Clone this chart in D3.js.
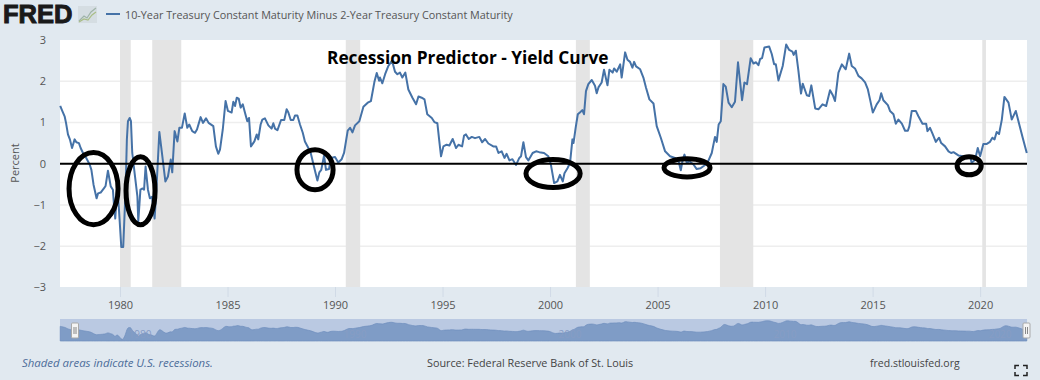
<!DOCTYPE html>
<html>
<head>
<meta charset="utf-8">
<script src="https://cdn.jsdelivr.net/npm/d3@7"></script>
<style>
  body { margin: 0; background: #e1e9f0; }
  text { font-family: "Open Sans", sans-serif; }
  .domain { display: none; }
</style>
</head>
<body>
<svg id="chart" width="1040" height="380"></svg>
<script>
const seriesName = '10-Year Treasury Constant Maturity Minus 2-Year Treasury Constant Maturity';
const chartTitle = 'Recession Predictor - Yield Curve';

// decimal years
const years = [
  1977.22,1977.30,1977.43,1977.49,1977.58,1977.67,1977.77,1977.89,1977.97,1978.09,1978.17,1978.28,1978.43,1978.59,1978.67,1978.77,1978.91,1978.98,1979.10,1979.26,1979.33,1979.44,1979.57,1979.67,1979.72,1979.78,1979.88,1980.06,1980.15,1980.26,1980.32,1980.37,1980.45,1980.51,1980.57,1980.68,1980.81,1980.85,1980.95,1981.05,1981.12,1981.19,1981.30,1981.39,1981.49,1981.61,1981.70,1981.83,1981.95,1982.11,1982.23,1982.36,1982.43,1982.54,1982.67,1982.76,1982.88,1983.01,1983.13,1983.22,1983.36,1983.49,1983.58,1983.75,1983.86,1984.00,1984.12,1984.34,1984.46,1984.57,
  1984.65,1984.78,1984.91,1985.02,1985.19,1985.27,1985.35,1985.43,1985.52,1985.61,1985.71,1985.81,1985.92,1986.00,1986.09,1986.25,1986.36,1986.43,1986.54,1986.62,1986.74,1986.90,1987.05,1987.13,1987.21,1987.32,1987.49,1987.64,1987.75,1987.83,1987.94,1988.06,1988.14,1988.25,1988.37,1988.50,1988.60,1988.76,1988.87,1989.02,1989.18,1989.27,1989.36,1989.49,1989.58,1989.72,1989.81,1990.00,1990.15,1990.31,1990.42,1990.59,1990.70,1990.81,1990.93,1991.13,1991.32,1991.52,1991.67,1991.83,1991.94,1992.05,
  1992.09,1992.20,1992.33,1992.48,1992.65,1992.79,1992.90,1993.02,1993.13,1993.27,1993.41,1993.60,1993.77,1993.88,1994.03,1994.16,1994.29,1994.50,1994.62,1994.76,1994.84,1994.93,1995.04,1995.19,1995.32,1995.47,1995.63,1995.74,1995.91,1996.00,1996.09,1996.22,1996.36,1996.51,1996.71,1996.84,1996.98,1997.13,1997.36,1997.49,1997.60,1997.75,1997.88,1997.98,1998.11,1998.25,1998.42,1998.57,1998.65,1998.76,1998.88,1998.99,1999.19,1999.35,1999.50,
  1999.72,1999.92,2000.03,2000.19,2000.34,2000.46,2000.59,2000.67,2000.81,2000.93,2001.04,2001.09,2001.19,2001.29,2001.40,2001.50,2001.58,2001.67,2001.78,2001.94,2002.09,2002.17,2002.25,2002.40,2002.51,2002.67,2002.76,2002.91,2002.98,2003.10,2003.26,2003.33,2003.49,2003.60,2003.72,2003.83,2003.91,2004.00,2004.19,2004.34,2004.46,2004.62,2004.81,2004.96,2005.15,2005.35,2005.58,2005.81,2005.97,2006.08,2006.17,2006.25,2006.36,2006.48,2006.67,2006.82,2007.00,2007.16,
  2007.32,2007.52,2007.67,2007.75,2007.84,2007.94,2008.06,2008.17,2008.30,2008.45,2008.60,2008.74,2008.93,2009.04,2009.16,2009.33,2009.46,2009.58,2009.69,2009.77,2009.86,2009.97,2010.19,2010.31,2010.42,2010.50,2010.62,2010.82,2010.98,2011.12,2011.27,2011.33,2011.43,2011.55,2011.67,2011.75,2011.94,2012.05,2012.15,2012.33,2012.48,2012.67,2012.84,2013.02,2013.15,2013.25,2013.41,2013.57,2013.75,2013.91,2014.03,2014.18,2014.34,2014.49,
  2014.65,2014.78,2014.88,2015.01,2015.19,2015.32,2015.40,2015.50,2015.71,2015.81,2015.97,2016.08,2016.20,2016.36,2016.51,2016.64,2016.71,2016.82,2017.01,2017.13,2017.32,2017.49,2017.55,2017.67,2017.80,2017.94,2018.09,2018.19,2018.37,2018.53,2018.65,2018.76,2018.99,2019.22,2019.38,2019.53,2019.61,2019.77,2019.89,2020.00,2020.15,2020.31,2020.46,2020.57,2020.67,2020.77,2020.88,2021.01,2021.13,2021.32,2021.47,2021.66,2021.86,2021.98,2022.17
];
const spread = [
  1.40,1.30,1.14,0.99,0.71,0.59,0.38,0.59,0.52,0.50,0.38,0.26,0.14,-0.02,-0.15,-0.51,-0.84,-0.72,-0.70,-0.59,-0.54,-0.17,-0.55,-0.63,-1.00,-1.33,-0.50,-2.02,-2.02,-0.63,0.59,1.03,1.11,1.03,0.26,-0.23,-0.80,-1.40,-0.63,-0.60,-0.63,-0.07,-0.63,-0.84,-0.80,-1.33,-0.55,0.77,0.26,-0.43,-0.31,0.10,-0.21,0.79,0.54,0.87,0.87,1.22,0.87,0.95,0.79,0.75,0.83,1.13,0.99,1.10,0.99,0.91,0.42,0.24,
  0.34,0.83,1.52,1.28,1.24,1.50,1.40,1.60,1.58,1.36,1.44,1.24,1.03,1.11,0.42,0.54,0.71,0.59,0.95,1.07,1.10,0.93,0.85,0.98,0.85,0.81,1.06,1.06,1.32,1.24,1.06,1.06,1.17,1.17,0.95,0.75,0.54,0.38,0.26,-0.07,-0.41,-0.21,-0.15,0.20,-0.15,-0.13,0.14,0.16,0.03,0.11,0.26,0.80,0.87,0.76,0.93,1.03,1.38,1.48,1.52,1.98,2.20,2.01,
  2.09,1.95,2.17,2.37,2.50,2.23,2.17,2.21,2.09,2.21,1.80,1.60,1.44,1.63,1.60,1.56,1.20,1.11,1.01,0.98,0.59,0.18,0.42,0.46,0.44,0.60,0.38,0.46,0.42,0.68,0.71,0.60,0.65,0.62,0.65,0.52,0.60,0.49,0.42,0.42,0.26,0.30,0.14,0.24,0.08,0.11,-0.03,0.14,0.18,0.52,0.16,0.08,0.26,0.30,0.28,
  0.26,0.18,0.00,-0.47,-0.43,-0.27,-0.43,-0.23,-0.11,0.02,0.59,0.50,0.87,1.20,1.25,1.30,1.20,1.76,1.93,2.03,1.89,1.71,1.85,1.97,2.28,1.90,2.28,2.21,2.31,2.23,2.41,2.09,2.70,2.52,2.47,2.33,2.47,2.36,2.29,2.09,1.85,1.56,1.46,0.91,0.63,0.30,0.18,0.14,0.08,-0.16,0.10,0.22,0.02,0.06,-0.02,-0.13,-0.11,-0.05,
  0.02,0.26,0.65,0.53,0.95,1.03,1.93,1.87,1.48,1.37,1.50,2.46,1.54,1.97,1.93,2.56,2.43,2.46,2.39,2.54,2.56,2.82,2.84,2.66,2.41,2.41,2.02,2.37,2.89,2.76,2.72,2.64,2.74,2.25,1.70,1.94,1.66,1.64,1.90,1.34,1.32,1.44,1.40,1.78,1.66,1.52,2.21,2.41,2.29,2.67,2.37,2.31,2.13,2.07,
  1.97,1.80,1.56,1.24,1.44,1.54,1.71,1.54,1.42,1.28,1.20,0.97,1.07,0.97,0.80,0.80,0.91,1.28,1.28,1.15,0.97,0.97,0.79,0.87,0.71,0.53,0.63,0.50,0.42,0.30,0.26,0.28,0.20,0.18,0.14,0.18,0.02,0.10,0.38,0.18,0.48,0.48,0.53,0.63,0.59,0.77,0.72,1.07,1.62,1.48,1.07,1.28,0.87,0.63,0.26
];

const recessionStart = [1980.0, 1981.5, 1990.5, 2001.2, 2007.9, 2020.1];
const recessionEnd   = [1980.5, 1982.85, 1991.17, 2001.85, 2009.45, 2020.27];

// hand drawn circles: year span and value span
const circleYearFrom = [1977.63, 1980.28, 1988.23, 1998.88, 2005.30, 2018.93];
const circleYearTo   = [1979.91, 1981.63, 1989.91, 2001.40, 2007.44, 2020.05];
const circleTop      = [0.27, 0.17, 0.34, 0.10, 0.12, 0.17];
const circleBottom   = [-1.48, -1.48, -0.63, -0.58, -0.32, -0.27];

const yTicks = [-3, -2, -1, 0, 1, 2, 3];
const xTicks = [1980, 1985, 1990, 1995, 2000, 2005, 2010, 2015, 2020];
const navLabels = [1980, 1990, 2000, 2010, 2020];

const plot = {left: 60, right: 1027, top: 40, bottom: 287};
const nav = {top: 319, bottom: 341};

const svg = d3.select('#chart');

const xScale = d3.scaleLinear()
    .domain([1977.21, 2022.18])
    .range([plot.left, plot.right]);

const yScale = d3.scaleLinear()
    .domain([-3, 3])
    .range([287.4, 40]);

const navY = d3.scaleLinear()
    .domain([-2, 2.9])
    .range([339.5, 320.5]);

// plot background
svg.append('rect')
    .attr('x', plot.left).attr('y', plot.top)
    .attr('width', plot.right - plot.left).attr('height', plot.bottom - plot.top)
    .attr('fill', '#fff');

// grid lines
svg.append('g').selectAll('line')
    .data(yTicks.filter(d => d != 0 && d != 3 && d != -3))
    .enter().append('line')
    .attr('x1', plot.left).attr('x2', plot.right)
    .attr('y1', d => yScale(d)).attr('y2', d => yScale(d))
    .attr('stroke', '#eeeeee').attr('stroke-width', 1.5);

// recessions
svg.append('g').selectAll('rect')
    .data(recessionStart)
    .enter().append('rect')
    .attr('x', d => xScale(d))
    .attr('y', plot.top)
    .attr('width', (d, i) => xScale(recessionEnd[i]) - xScale(d))
    .attr('height', plot.bottom - plot.top)
    .attr('fill', '#e4e4e4');

// x axis
const xAxis = svg.append('g')
    .attr('transform', `translate(0, ${plot.bottom})`)
    .call(d3.axisBottom(xScale).tickValues(xTicks).tickFormat(d3.format('d')).tickSize(10).tickPadding(4));
xAxis.selectAll('line').attr('stroke', '#d0dae6');
xAxis.selectAll('text').attr('fill', '#555').style('font-size', '11px');

// y axis, labels only
const yAxis = svg.append('g')
    .attr('transform', 'translate(48, 0)')
    .call(d3.axisLeft(yScale).tickValues(yTicks).tickFormat(d3.format('d')).tickSize(0).tickPadding(2));
yAxis.selectAll('text').attr('fill', '#555').style('font-size', '11px');

svg.append('text')
    .attr('transform', 'translate(19, 163) rotate(-90)')
    .attr('text-anchor', 'middle')
    .attr('fill', '#555')
    .style('font-size', '11px')
    .text('Percent');

// series
const line = d3.line()
    .x(d => xScale(d))
    .y((d, i) => yScale(spread[i]));

svg.append('path')
    .attr('d', line(years))
    .attr('fill', 'none')
    .attr('stroke', '#4572a7')
    .attr('stroke-width', 2)
    .attr('stroke-linejoin', 'round');

// zero line added on the picture
svg.append('line')
    .attr('x1', plot.left).attr('x2', plot.right)
    .attr('y1', yScale(0)).attr('y2', yScale(0))
    .attr('stroke', '#000').attr('stroke-width', 2);

// circles
svg.append('g').selectAll('ellipse')
    .data(circleYearFrom)
    .enter().append('ellipse')
    .attr('cx', (d, i) => (xScale(d) + xScale(circleYearTo[i])) / 2)
    .attr('cy', (d, i) => (yScale(circleTop[i]) + yScale(circleBottom[i])) / 2)
    .attr('rx', (d, i) => (xScale(circleYearTo[i]) - xScale(d)) / 2)
    .attr('ry', (d, i) => (yScale(circleBottom[i]) - yScale(circleTop[i])) / 2)
    .attr('fill', 'none')
    .attr('stroke', '#000')
    .attr('stroke-width', 5);

svg.append('text')
    .attr('x', 327).attr('y', 64)
    .attr('fill', '#000')
    .style('font-size', '17.3px')
    .style('font-weight', 700)
    .text(chartTitle);

// navigator
svg.append('rect')
    .attr('x', plot.left).attr('y', nav.top)
    .attr('width', plot.right - plot.left).attr('height', nav.bottom - nav.top)
    .attr('fill', '#bac9e2');

const navArea = d3.area()
    .x(d => xScale(d))
    .y0(nav.bottom)
    .y1((d, i) => navY(spread[i]))
    .curve(d3.curveBasis);

svg.append('path')
    .attr('d', navArea(years))
    .attr('fill', '#7f9cc6')
    .attr('stroke', '#6f8ebd')
    .attr('stroke-width', 0.7);

svg.append('g').selectAll('text')
    .data(navLabels)
    .enter().append('text')
    .attr('x', d => xScale(d) + 20)
    .attr('y', 338)
    .attr('text-anchor', 'middle')
    .attr('fill', '#879cc4')
    .style('font-size', '10px')
    .text(d => d);

// navigator handles
[75, 1026.5].forEach(function (hx) {
    const h = svg.append('g').attr('transform', `translate(${hx}, 323)`);
    h.append('rect')
        .attr('x', -3.5).attr('y', 0).attr('width', 7).attr('height', 15).attr('rx', 1)
        .attr('fill', '#f4f4f4').attr('stroke', '#a9a9a9');
    h.append('path')
        .attr('d', 'M-1,4V11M1,4V11')
        .attr('stroke', '#888').attr('stroke-width', 1);
});

// footer
svg.append('text')
    .attr('x', 22).attr('y', 367)
    .attr('fill', '#4d6d9a')
    .style('font-size', '11.4px')
    .style('font-style', 'italic')
    .text('Shaded areas indicate U.S. recessions.');

svg.append('text')
    .attr('x', 427).attr('y', 367)
    .attr('fill', '#444')
    .style('font-size', '10.8px')
    .text('Source: Federal Reserve Bank of St. Louis');

svg.append('text')
    .attr('x', 870).attr('y', 367)
    .attr('fill', '#444')
    .style('font-size', '10.5px')
    .text('fred.stlouisfed.org');

svg.append('path')
    .attr('d', 'M1015,369V365.5H1019M1023,365.5H1027V369M1027,372V375.5H1023M1019,375.5H1015V372')
    .attr('fill', 'none')
    .attr('stroke', '#222')
    .attr('stroke-width', 1.5);

// header
svg.append('text')
    .attr('x', 3).attr('y', 22.5)
    .attr('fill', '#1a1a1a')
    .attr('stroke', '#1a1a1a')
    .attr('stroke-width', 1)
    .style('font-family', '"Liberation Sans", sans-serif')
    .style('font-size', '25.5px')
    .style('font-weight', 700)
    .text('FRED');

const logo = svg.append('g').attr('transform', 'translate(78, 6)');
logo.append('rect').attr('width', 19).attr('height', 17).attr('fill', '#d5dde2');
logo.append('path').attr('d', 'M1,15L6,10L9,12L13,6L18,2').attr('fill', 'none').attr('stroke', '#9fb4a8').attr('stroke-width', 1.2);
logo.append('path').attr('d', 'M1,16L6,13L10,14L14,9L18,6').attr('fill', 'none').attr('stroke', '#a9bd86').attr('stroke-width', 1.2);

svg.append('line')
    .attr('x1', 106).attr('x2', 120)
    .attr('y1', 14).attr('y2', 14)
    .attr('stroke', '#4572a7').attr('stroke-width', 2);

svg.append('text')
    .attr('x', 125).attr('y', 19)
    .attr('fill', '#555')
    .style('font-size', '10.8px')
    .text(seriesName);
</script>
</body>
</html>
